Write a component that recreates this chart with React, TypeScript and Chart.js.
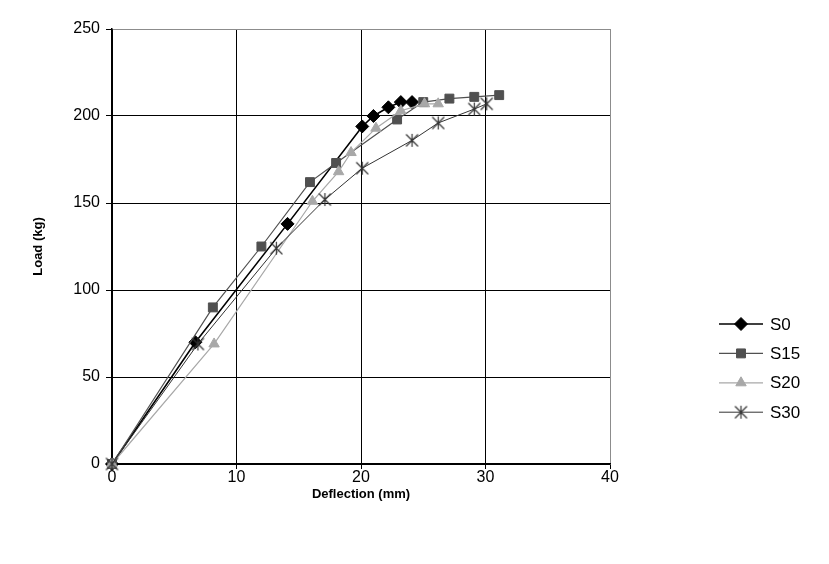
import React, { useEffect, useRef } from "react";
import { Chart, registerables } from "chart.js";
import { drawPoint } from "chart.js/helpers";

Chart.register(...registerables);

const seriesNames = ["S0", "S15", "S20", "S30"];

const s0Deflection = [0, 6.7, 14.1, 20.1, 21.0, 22.2, 23.2, 24.1];
const s0Load = [0, 70, 138, 194, 200, 205, 208, 208];

const s15Deflection = [0, 8.1, 12.0, 15.9, 18.0, 22.9, 25.0, 27.1, 29.1, 31.1];
const s15Load = [0, 90, 125, 162, 173, 198, 208, 210, 211, 212];

const s20Deflection = [0, 8.2, 16.1, 18.2, 19.2, 21.2, 23.2, 25.1, 26.2];
const s20Load = [0, 69, 151, 168, 179, 193, 203, 207, 207];

const s30Deflection = [0, 6.9, 13.2, 17.1, 20.1, 24.1, 26.2, 29.1, 30.1];
const s30Load = [0, 69, 124, 152, 170, 186, 196, 204, 207];

const xTicks = [0, 10, 20, 30, 40];
const yTicks = [0, 50, 100, 150, 200, 250];

const FONT = "'Liberation Sans', Arial, sans-serif";

function pairs(xs: number[], ys: number[]) {
  return xs.map((x, i) => ({ x, y: ys[i] }));
}

// asterisk marker: vertical stroke plus two diagonals
function makeAsterisk(color: string) {
  const c = document.createElement("canvas");
  const size = 15;
  c.width = size;
  c.height = size;
  const g = c.getContext("2d")!;
  g.strokeStyle = color;
  g.lineWidth = 1.2;
  g.beginPath();
  g.moveTo(7.5, 1);
  g.lineTo(7.5, 14);
  g.moveTo(1.5, 1.5);
  g.lineTo(13.5, 13.5);
  g.moveTo(13.5, 1.5);
  g.lineTo(1.5, 13.5);
  g.stroke();
  return c;
}

// legend at the right: short line through each series marker, then the name
const legendPlugin = {
  id: "sideLegend",
  afterDraw(chart: any) {
    const ctx = chart.ctx;
    const x0 = 719;
    const x1 = 763;
    const top = 324;
    const step = 29.4;
    chart.data.datasets.forEach((ds: any, i: number) => {
      const y = top + i * step;
      ctx.save();
      ctx.strokeStyle = ds.borderColor;
      ctx.lineWidth = ds.borderWidth;
      ctx.beginPath();
      ctx.moveTo(x0, y);
      ctx.lineTo(x1, y);
      ctx.stroke();
      ctx.fillStyle = ds.backgroundColor;
      ctx.strokeStyle = ds.borderColor;
      ctx.lineWidth = 1;
      drawPoint(
        ctx,
        {
          pointStyle: ds.pointStyle,
          radius: ds.pointRadius,
          rotation: 0,
          borderWidth: 1,
        } as any,
        (x0 + x1) / 2,
        y
      );
      ctx.fillStyle = "#000";
      ctx.font = `17px ${FONT}`;
      ctx.textBaseline = "middle";
      ctx.textAlign = "left";
      ctx.fillText(ds.label, 770, y + 1);
      ctx.restore();
    });
  },
};

export default function App() {
  const ref = useRef<HTMLCanvasElement>(null);

  useEffect(() => {
    document.body.style.margin = "0";
    const canvas = ref.current!;
    const ctx = canvas.getContext("2d")!;
    const star = makeAsterisk("#333333");

    const chart = new Chart(ctx, {
      type: "scatter",
      data: {
        datasets: [
          {
            label: seriesNames[0],
            data: pairs(s0Deflection, s0Load),
            showLine: true,
            clip: false,
            order: 3,
            borderColor: "#000000",
            backgroundColor: "#000000",
            borderWidth: 1.6,
            pointStyle: "rectRot",
            pointRadius: 6.5,
            pointBorderWidth: 1,
          },
          {
            label: seriesNames[1],
            data: pairs(s15Deflection, s15Load),
            showLine: true,
            clip: false,
            order: 2,
            borderColor: "#505050",
            backgroundColor: "#505050",
            borderWidth: 1.2,
            pointStyle: "rect",
            pointRadius: 6.3,
            pointBorderWidth: 1,
          },
          {
            label: seriesNames[2],
            data: pairs(s20Deflection, s20Load),
            showLine: true,
            clip: false,
            order: 1,
            borderColor: "#a8a8a8",
            backgroundColor: "#a8a8a8",
            borderWidth: 1.2,
            pointStyle: "triangle",
            pointRadius: 6,
            pointBorderWidth: 1,
          },
          {
            label: seriesNames[3],
            data: pairs(s30Deflection, s30Load),
            showLine: true,
            clip: false,
            order: 0,
            borderColor: "#333333",
            backgroundColor: "#333333",
            borderWidth: 1,
            pointStyle: star as any,
            pointRadius: 7,
            pointBorderWidth: 1,
          },
        ],
      },
      options: {
        animation: false,
        responsive: false,
        devicePixelRatio: 1,
        layout: { padding: { left: 27, right: 219, top: 29, bottom: 59 } },
        plugins: {
          legend: { display: false },
          tooltip: { enabled: false },
        },
        scales: {
          x: {
            type: "linear",
            min: 0,
            max: 40,
            afterBuildTicks: (s: any) => {
              s.ticks = xTicks.map((v) => ({ value: v }));
            },
            afterFit: (s: any) => {
              s.height = 41;
            },
            grid: {
              color: (c: any) => (c.tick && c.tick.value === 40 ? "#8c8c8c" : "#000000"),
              lineWidth: 1,
              tickLength: 5,
              tickColor: "#000000",
            },
            border: { color: "#000000", width: 1.5 },
            ticks: {
              color: "#000",
              font: { family: FONT, size: 16 },
              padding: -1,
            },
            title: {
              display: true,
              text: "Deflection (mm)",
              color: "#000",
              font: { family: FONT, size: 13, weight: "bold" },
              padding: { top: 4, bottom: 3 },
            },
          },
          y: {
            type: "linear",
            min: 0,
            max: 250,
            afterBuildTicks: (s: any) => {
              s.ticks = yTicks.map((v) => ({ value: v }));
            },
            afterFit: (s: any) => {
              s.width = 85;
            },
            grid: {
              color: (c: any) => (c.tick && c.tick.value === 250 ? "#8c8c8c" : "#000000"),
              lineWidth: 1,
              tickLength: 6,
              tickColor: "#000000",
            },
            border: { color: "#000000", width: 1.5 },
            ticks: {
              color: "#000",
              font: { family: FONT, size: 16 },
              padding: 6,
            },
            title: {
              display: true,
              text: "Load (kg)",
              color: "#000",
              font: { family: FONT, size: 13, weight: "bold" },
              padding: { top: 4, bottom: 4 },
            },
          },
        },
      },
      plugins: [legendPlugin],
    });

    return () => chart.destroy();
  }, []);

  return (
    <div style={{ position: "absolute", left: 0, top: 0 }}>
      <canvas ref={ref} width={829} height={564} style={{ display: "block" }} />
    </div>
  );
}
